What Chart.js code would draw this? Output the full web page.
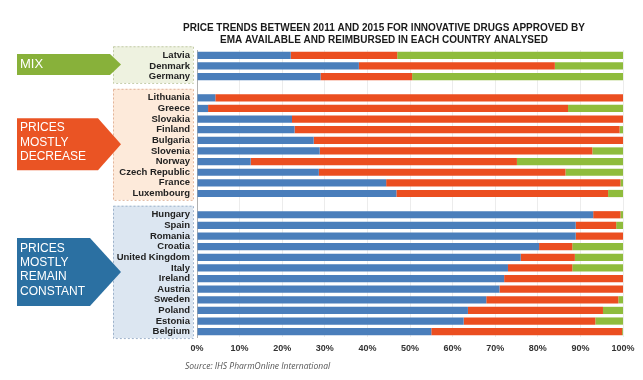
<!DOCTYPE html>
<html>
<head>
<meta charset="utf-8">
<script src="https://cdn.jsdelivr.net/npm/chart.js@4"></script>
<style>
  body { margin: 0; background: #fff; }
  #wrap { position: relative; width: 643px; height: 380px; }
</style>
</head>
<body>
<div id="wrap"><canvas id="myChart"></canvas></div>
<script>
// '' rows are the gaps between the three groups
let countries = ["Latvia", "Denmark", "Germany", "",
    "Lithuania", "Greece", "Slovakia", "Finland", "Bulgaria", "Slovenia", "Norway", "Czech Republic", "France", "Luxembourg", "",
    "Hungary", "Spain", "Romania", "Croatia", "United Kingdom", "Italy", "Ireland", "Austria", "Sweden", "Poland", "Estonia", "Belgium"];
let constantValues = [22, 38, 29, null,
    4.3, 2.6, 22.3, 22.9, 27.4, 28.8, 12.6, 28.6, 44.4, 46.8, null,
    93, 88.9, 88.9, 80.3, 76, 73, 72.1, 71, 67.9, 63.6, 62.6, 55];
let decreaseValues = [25, 46, 21.5, null,
    95.7, 84.5, 77.7, 76.3, 72.6, 64, 62.5, 57.9, 55, 49.7, null,
    6.4, 9.5, 11.1, 7.8, 12.7, 15.1, 27.9, 29, 31, 31.7, 30.9, 44.8];
let increaseValues = [53, 16, 49.5, null,
    0, 12.9, 0, 0.8, 0, 7.2, 24.9, 13.5, 0.6, 3.5, null,
    0.6, 1.6, 0, 11.9, 11.3, 11.9, 0, 0, 1.1, 4.7, 6.5, 0.2];
let xTicks = [0, 10, 20, 30, 40, 50, 60, 70, 80, 90, 100];

let groups = [
    {from: "Latvia", to: "Germany", lines: ["MIX"], arrow: "#88b13a", fill: "#eef2e0", border: "#c4cca8", h: 21, rectEnd: 110, size: 13},
    {from: "Lithuania", to: "Luxembourg", lines: ["PRICES", "MOSTLY", "DECREASE"], arrow: "#ea5424", fill: "#fdeada", border: "#e2b59b", h: 52, rectEnd: 98, size: 12},
    {from: "Hungary", to: "Belgium", lines: ["PRICES", "MOSTLY", "REMAIN", "CONSTANT"], arrow: "#2b70a2", fill: "#dce6f1", border: "#9fb3cb", h: 68, rectEnd: 90, size: 12}
];

const sidePanels = {
    id: "sidePanels",
    beforeDraw(chart) {
        const ctx = chart.ctx;
        const y = chart.scales.y;
        const row = Math.abs(y.getPixelForValue(1) - y.getPixelForValue(0));
        ctx.save();
        groups.forEach(g => {
            const top = y.getPixelForValue(countries.indexOf(g.from)) - 0.85 * row;
            const bot = y.getPixelForValue(countries.indexOf(g.to)) + 0.6 * row;
            ctx.fillStyle = g.fill;
            ctx.fillRect(113, top, 80, bot - top);
            ctx.setLineDash([2, 2]);
            ctx.strokeStyle = g.border;
            ctx.lineWidth = 1;
            ctx.strokeRect(113.5, top + 0.5, 80, bot - top);
            ctx.setLineDash([]);

            const mid = (top + bot) / 2;
            const y0 = mid - g.h / 2, y1 = mid + g.h / 2;
            ctx.fillStyle = g.arrow;
            ctx.beginPath();
            ctx.moveTo(17, y0);
            ctx.lineTo(g.rectEnd, y0);
            ctx.lineTo(121, mid);
            ctx.lineTo(g.rectEnd, y1);
            ctx.lineTo(17, y1);
            ctx.closePath();
            ctx.fill();

            ctx.fillStyle = "#ffffff";
            ctx.font = g.size + "px 'Liberation Sans', Arial, sans-serif";
            ctx.textBaseline = "middle";
            ctx.textAlign = "left";
            const lh = 14.3;
            const shift = g.lines.length > 1 ? -2 : 0;
            g.lines.forEach((t, i) => {
                ctx.fillText(t, 20, mid + shift + (i - (g.lines.length - 1) / 2) * lh);
            });
        });
        ctx.restore();
    },
    afterDraw(chart) {
        const ctx = chart.ctx;
        ctx.save();
        ctx.fillStyle = "#1a1a1a";
        ctx.font = "bold 10px 'Liberation Sans', Arial, sans-serif";
        ctx.textAlign = "center";
        ctx.textBaseline = "middle";
        ctx.fillText("PRICE TRENDS BETWEEN 2011 AND 2015 FOR INNOVATIVE DRUGS APPROVED BY", 384, 28);
        ctx.fillText("EMA AVAILABLE AND REIMBURSED IN EACH COUNTRY ANALYSED", 384, 40);
        ctx.fillStyle = "#555555";
        ctx.font = "italic 8.5px 'Open Sans', sans-serif";
        ctx.textAlign = "left";
        ctx.fillText("Source: IHS PharmOnline International", 185, 367);
        ctx.restore();
    }
};

new Chart("myChart", {
    type: "bar",
    data: {
        labels: countries,
        datasets: [
            {label: "Constant", data: constantValues, backgroundColor: "#4a7ebb"},
            {label: "Decrease", data: decreaseValues, backgroundColor: "#eb4e20"},
            {label: "Increase", data: increaseValues, backgroundColor: "#8fbc3c"}
        ]
    },
    options: {
        indexAxis: "y",
        responsive: true,
        maintainAspectRatio: false,
        animation: false,
        layout: {padding: {top: 50, right: 20, left: 0, bottom: 0}},
        datasets: {bar: {barPercentage: 0.68, categoryPercentage: 1}},
        plugins: {
            legend: {display: false},
            tooltip: {enabled: false}
        },
        scales: {
            x: {
                stacked: true,
                min: 0,
                max: 100,
                afterBuildTicks: s => { s.ticks = xTicks.map(v => ({value: v})); },
                afterFit: s => { s.height = 43; },
                grid: {color: "#ececec", drawTicks: false},
                border: {display: false},
                ticks: {
                    padding: 6,
                    color: "#333",
                    font: {family: "'Liberation Sans', Arial", size: 9, weight: "bold"},
                    callback: v => v + "%"
                }
            },
            y: {
                stacked: true,
                afterFit: s => { s.width = 197; },
                grid: {display: false, drawTicks: false},
                border: {color: "#b0b0b0"},
                ticks: {
                    padding: 7,
                    autoSkip: false,
                    color: "#222",
                    font: {family: "'Liberation Sans', Arial", size: 9.5, weight: "bold"}
                }
            }
        }
    },
    plugins: [sidePanels]
});
</script>
</body>
</html>
